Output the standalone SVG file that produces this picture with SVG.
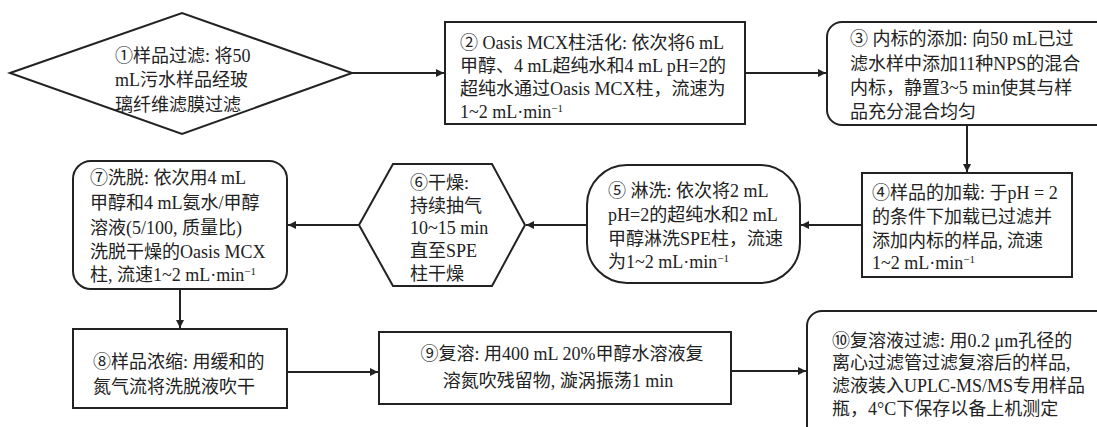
<svg xmlns="http://www.w3.org/2000/svg" width="1097" height="427" viewBox="0 0 1097 427">
<style>
.n{fill:#fff;stroke:#222;stroke-width:2}
.t{font-family:"Liberation Serif","Noto Sans CJK SC",serif;font-size:18px;fill:#222}
.c{fill:none;stroke:#222;stroke-width:2}
.s{font-size:11px}
</style>
<defs>
<marker id="a" viewBox="0 0 8 8" refX="8" refY="4" markerWidth="4" markerHeight="4" orient="auto" markerUnits="strokeWidth">
<path d="M0,0L8,4L0,8z" fill="#222"/>
</marker>
</defs>
<rect width="1097" height="427" fill="#fff"/>
<g id="connectors">
<path class="c" d="M352,73H444" marker-end="url(#a)"/>
<path class="c" d="M745,73H826" marker-end="url(#a)"/>
<path class="c" d="M967,125V172" marker-end="url(#a)"/>
<path class="c" d="M862,225H801" marker-end="url(#a)"/>
<path class="c" d="M587,225H526" marker-end="url(#a)"/>
<path class="c" d="M359,225H288" marker-end="url(#a)"/>
<path class="c" d="M180,289V328" marker-end="url(#a)"/>
<path class="c" d="M287,372H378" marker-end="url(#a)"/>
<path class="c" d="M731,371H806" marker-end="url(#a)"/>
</g>
<g id="n1">
<polygon class="n" points="10,73 182,13 352,73 182,134"/>
<text class="t"><tspan x="115" y="62">①样品过滤: 将50</tspan><tspan x="115" y="86">mL污水样品经玻</tspan><tspan x="115" y="111">璃纤维滤膜过滤</tspan></text>
</g>
<g id="n2">
<rect class="n" x="445" y="22" width="300" height="102"/>
<text class="t"><tspan x="460" y="49">② Oasis MCX柱活化: 依次将6 mL</tspan><tspan x="460" y="72">甲醇、4 mL超纯水和4 mL pH=2的</tspan><tspan x="460" y="95">超纯水通过Oasis MCX柱，流速为</tspan><tspan x="460" y="118">1~2 mL·min<tspan class="s" baseline-shift="super">−1</tspan></tspan></text>
</g>
<g id="n3">
<rect class="n" x="827" y="22" width="285" height="103" rx="15"/>
<text class="t"><tspan x="850" y="45">③ 内标的添加: 向50 mL已过</tspan><tspan x="850" y="70">滤水样中添加11种NPS的混合</tspan><tspan x="850" y="94">内标，静置3~5 min使其与样</tspan><tspan x="850" y="118">品充分混合均匀</tspan></text>
</g>
<g id="n4">
<rect class="n" x="862" y="173" width="210" height="104"/>
<text class="t"><tspan x="872" y="199">④样品的加载: 于pH = 2</tspan><tspan x="872" y="223">的条件下加载已过滤并</tspan><tspan x="872" y="247">添加内标的样品, 流速</tspan><tspan x="872" y="269">1~2 mL·min<tspan class="s" baseline-shift="super">−1</tspan></tspan></text>
</g>
<g id="n5">
<rect class="n" x="587" y="165" width="213" height="118" rx="40"/>
<text class="t"><tspan x="608" y="197">⑤ 淋洗: 依次将2 mL</tspan><tspan x="608" y="221">pH=2的超纯水和2 mL</tspan><tspan x="608" y="245">甲醇淋洗SPE柱，流速</tspan><tspan x="608" y="268">为1~2 mL·min<tspan class="s" baseline-shift="super">−1</tspan></tspan></text>
</g>
<g id="n6">
<polygon class="n" points="359,225 393,164 492,164 525,225 492,286 393,286"/>
<text class="t"><tspan x="410" y="189">⑥干燥:</tspan><tspan x="410" y="212">持续抽气</tspan><tspan x="410" y="234">10~15 min</tspan><tspan x="410" y="257">直至SPE</tspan><tspan x="410" y="280">柱干燥</tspan></text>
</g>
<g id="n7">
<rect class="n" x="73" y="161" width="214" height="128" rx="18"/>
<text class="t"><tspan x="90" y="184">⑦洗脱: 依次用4 mL</tspan><tspan x="90" y="209">甲醇和4 mL氨水/甲醇</tspan><tspan x="90" y="234">溶液(5/100, 质量比)</tspan><tspan x="90" y="258">洗脱干燥的Oasis MCX</tspan><tspan x="90" y="281">柱, 流速1~2 mL·min<tspan class="s" baseline-shift="super">−1</tspan></tspan></text>
</g>
<g id="n8">
<rect class="n" x="73" y="329" width="214" height="79"/>
<text class="t"><tspan x="93" y="368">⑧样品浓缩: 用缓和的</tspan><tspan x="93" y="393">氮气流将洗脱液吹干</tspan></text>
</g>
<g id="n9">
<rect class="n" x="379" y="332" width="352" height="72"/>
<text class="t" text-anchor="middle"><tspan x="562" y="360">⑨复溶: 用400 mL 20%甲醇水溶液复</tspan><tspan x="558" y="387">溶氮吹残留物, 漩涡振荡1 min</tspan></text>
</g>
<g id="n10">
<rect class="n" x="807" y="311" width="310" height="140" rx="15"/>
<text class="t"><tspan x="832" y="347">⑩复溶液过滤: 用0.2 μm孔径的</tspan><tspan x="832" y="369">离心过滤管过滤复溶后的样品,</tspan><tspan x="832" y="392">滤液装入UPLC-MS/MS专用样品</tspan><tspan x="832" y="415">瓶，4°C下保存以备上机测定</tspan></text>
</g>
</svg>
